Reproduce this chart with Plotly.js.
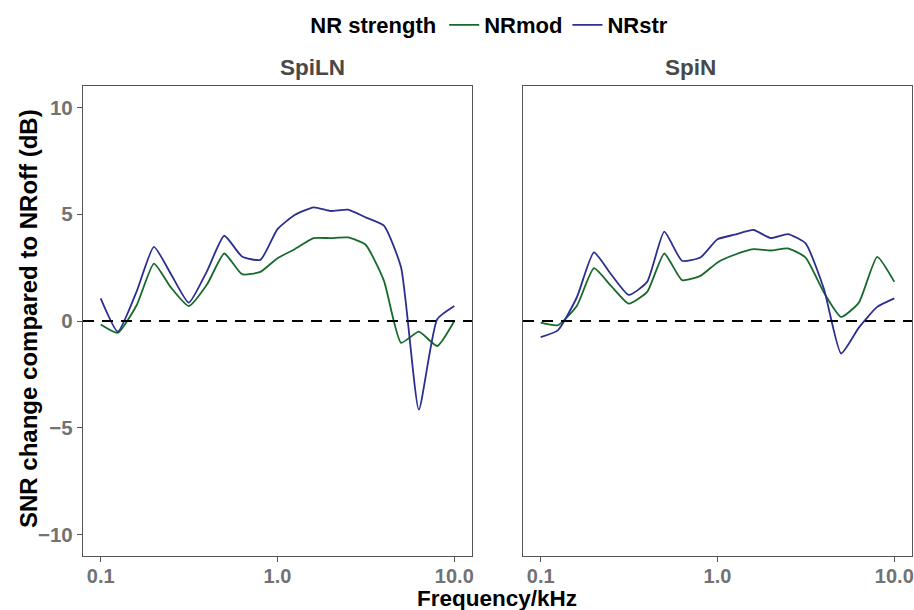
<!DOCTYPE html>
<html><head><meta charset="utf-8">
<script src="https://cdn.plot.ly/plotly-3.0.1.min.js"></script>
<style>html,body{margin:0;padding:0;background:#fff}</style>
</head><body><div id="chart" style="width:914px;height:610px"></div>
<script>
const freq = [0.1,0.125,0.16,0.2,0.25,0.315,0.4,0.5,0.63,0.8,1.0,1.25,1.6,2.0,2.5,3.15,4.0,5.0,6.3,8.0,10.0];
const spiLN_NRmod = [-0.16,-0.55,0.75,2.69,1.56,0.70,1.72,3.16,2.19,2.30,2.94,3.36,3.88,3.88,3.91,3.57,1.88,-1.02,-0.50,-1.17,0.0];
const spiLN_NRstr = [1.06,-0.50,1.40,3.47,2.19,0.86,2.35,3.99,3.02,2.86,4.30,4.96,5.32,5.15,5.21,4.85,4.46,2.50,-4.15,0.08,0.70];
const spiN_NRmod = [-0.08,-0.20,0.70,2.47,1.64,0.81,1.36,3.16,1.91,2.11,2.74,3.10,3.36,3.30,3.40,2.97,1.33,0.19,0.86,3.00,1.83];
const spiN_NRstr = [-0.75,-0.44,1.10,3.21,2.19,1.22,1.83,4.18,2.82,2.97,3.83,4.04,4.26,3.88,4.07,3.63,1.50,-1.52,-0.31,0.66,1.06];
const panels = ["SpiLN","SpiN"];
const seriesNames = ["NRmod","NRstr"];
const colors = {NRmod:"#17692c", NRstr:"#2b2f8f"};
const xTickVals = [0.1,1,10];
const xTickText = ["0.1","1.0","10.0"];
const yTickVals = [-10,-5,0,5,10];

const FONT = "Liberation Sans, Arial, sans-serif";
const lineW = 1.8;
const traces = [];
function add(y, name, xa, ya, show){
  traces.push({x:freq, y:y, type:"scatter", mode:"lines", name:name, xaxis:xa, yaxis:ya,
    line:{color:colors[name], width:lineW, shape:"spline", smoothing:0.5}, showlegend:show, legendgroup:name});
}
add(spiLN_NRmod,"NRmod","x","y",true);
add(spiLN_NRstr,"NRstr","x","y",true);
add(spiN_NRmod,"NRmod","x2","y2",false);
add(spiN_NRstr,"NRstr","x2","y2",false);

const W=914,H=610;
const yDom=[(H-556)/H,(H-86)/H];
const tickFont = {family:FONT,size:20,color:"#727272",weight:"bold"};
function xax(dom){
  return {type:"log", domain:dom, range:[-1.1,1.1], tickvals:xTickVals, ticktext:xTickText,
    showline:true, mirror:true, linecolor:"#555", linewidth:1.2, ticks:"outside", ticklen:5, tickcolor:"#555",
    ticklabeloverflow:"allow", ticklabelstandoff:-3,
    showgrid:false, zeroline:false, tickfont:tickFont};
}
function yax(show, anchor){
  return {domain:yDom, range:[-11,11], tickvals:yTickVals, showticklabels:show, anchor:anchor,
    showline:true, mirror:true, linecolor:"#555", linewidth:1.2, ticks: show?"outside":"", ticklen:5, tickcolor:"#555",
    showgrid:false, zeroline:false, tickfont:Object.assign({},tickFont,{size:20.5})};
}
const layout = {
  width:W, height:H, margin:{l:0,r:0,t:0,b:0}, paper_bgcolor:"#fff", plot_bgcolor:"#fff",
  font:{family:FONT},
  xaxis:xax([83/W,472/W]),
  xaxis2:Object.assign(xax([523/W,912/W]),{anchor:"y2"}),
  yaxis:yax(true,"x"),
  yaxis2:yax(false,"x2"),
  showlegend:true,
  legend:{orientation:"h", x:0.537, xanchor:"center", y:1-25/H, yanchor:"middle",
    title:{text:"NR strength", font:{family:FONT,size:22,color:"#000",weight:"bold"}, side:"left"},
    font:{family:FONT,size:22,color:"#000",weight:"bold"}, itemwidth:30, tracegroupgap:0},
  shapes:[
    {type:"line", xref:"x domain", yref:"y", x0:0, x1:1, y0:0, y1:0, line:{color:"#000",width:2,dash:"11px,8px"}},
    {type:"line", xref:"x2 domain", yref:"y2", x0:0, x1:1, y0:0, y1:0, line:{color:"#000",width:2,dash:"11px,8px"}}
  ],
  annotations:[
    {text:panels[0], xref:"paper", yref:"paper", x:(83+472)/2/W, y:1-68/H, yanchor:"middle", showarrow:false, font:{family:FONT,size:22.5,color:"#484848",weight:"bold"}},
    {text:panels[1], xref:"paper", yref:"paper", x:(523+912)/2/W, y:1-68/H, yanchor:"middle", showarrow:false, font:{family:FONT,size:22.5,color:"#484848",weight:"bold"}},
    {text:"Frequency/kHz", xref:"paper", yref:"paper", x:497/W, y:1-598/H, yanchor:"middle", showarrow:false, font:{family:FONT,size:22.5,color:"#000",weight:"bold"}},
    {text:"SNR change compared to NRoff (dB)", xref:"paper", yref:"paper", x:28/W, y:1-319/H, xanchor:"center", yanchor:"middle", textangle:-90, showarrow:false, font:{family:FONT,size:24,color:"#000",weight:"bold"}}
  ]
};
Plotly.newPlot("chart", traces, layout, {displayModeBar:false, staticPlot:true});
</script></body></html>
